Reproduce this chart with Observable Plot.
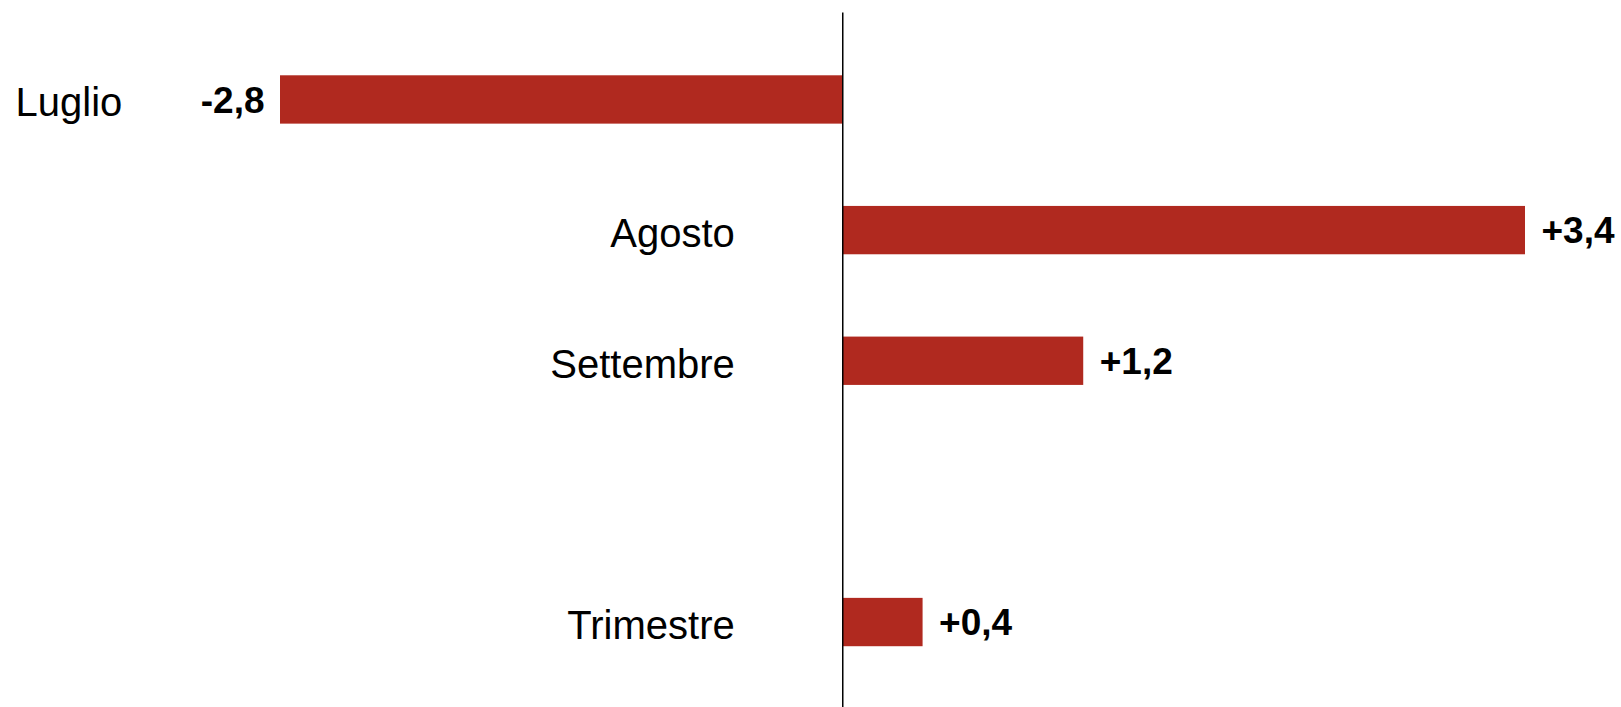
<!DOCTYPE html>
<html>
<head>
<meta charset="utf-8">
<script src="https://cdn.jsdelivr.net/npm/d3@7"></script>
<script src="https://cdn.jsdelivr.net/npm/@observablehq/plot@0.6"></script>
<style>
  html, body { margin: 0; padding: 0; background: #fff; }
  #chart svg { display: block; }
</style>
</head>
<body>
<div id="chart"></div>
<script>
const categories = ["Luglio", "Agosto", "Settembre", "Trimestre"];
const values = [-2.8, 3.4, 1.2, 0.4];
const valueLabels = ["-2,8", "+3,4", "+1,2", "+0,4"];
const yDomain = ["Luglio", "Agosto", "Settembre", " ", "Trimestre"];

const data = categories.map((c, i) => ({ cat: c, value: values[i], label: valueLabels[i] }));
const neg = data.filter(d => d.value < 0);
const pos = data.filter(d => d.value >= 0);

const font = "'Liberation Sans', Arial, sans-serif";
const barColor = "#B0291F";

const chart = Plot.plot({
  width: 1621,
  height: 707,
  marginLeft: 280,
  marginRight: 96,
  marginTop: 16.5,
  marginBottom: 2,
  style: { fontFamily: font, background: "#fff" },
  x: { domain: d3.extent(values), axis: null },
  y: { domain: yDomain, axis: null, paddingInner: 0.63, paddingOuter: 0.45, align: 0.5, round: false },
  marks: [
    Plot.barX(data, { x1: 0, x2: "value", y: "cat", fill: barColor }),
    Plot.ruleX([0], { stroke: "#000", strokeWidth: 1.5, insetTop: -4, insetBottom: -2 }),
    // value labels
    Plot.text(neg, { x: "value", y: "cat", text: "label", textAnchor: "end", dx: -16, dy: 1, fontSize: 37, fontWeight: "bold", fill: "#000" }),
    Plot.text(pos, { x: "value", y: "cat", text: "label", textAnchor: "start", dx: 16, dy: 1, fontSize: 37, fontWeight: "bold", fill: "#000" }),
    // category labels
    Plot.text(neg, { y: "cat", text: "cat", frameAnchor: "left", textAnchor: "start", dx: -265, dy: 3, fontSize: 40, fill: "#000" }),
    Plot.text(pos, { x: () => 0, y: "cat", text: "cat", textAnchor: "end", dx: -108, dy: 4, fontSize: 40, fill: "#000" })
  ]
});
document.getElementById("chart").appendChild(chart);
</script>
</body>
</html>
